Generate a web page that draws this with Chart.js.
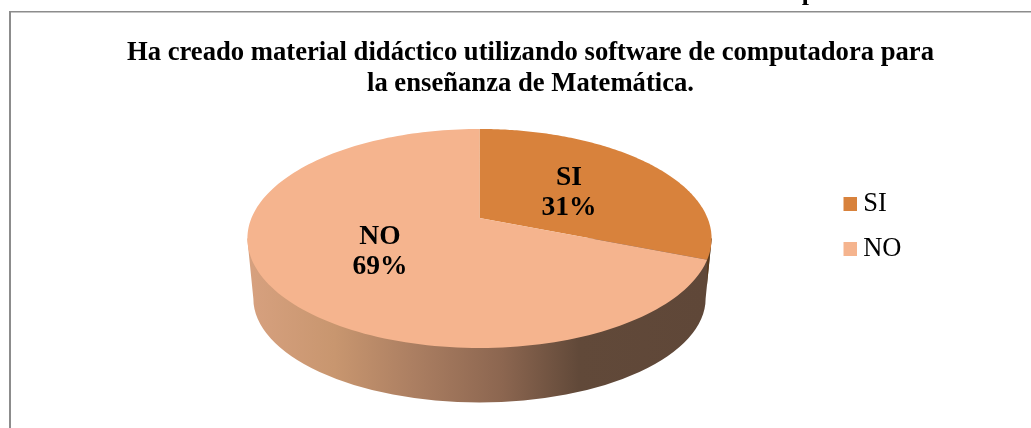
<!DOCTYPE html>
<html><head><meta charset="utf-8">
<style>html,body{margin:0;padding:0;background:#fff}#w{position:relative;width:1031px;height:428px;overflow:hidden}
#clip{position:absolute;left:150px;top:-20.9px;font:bold 25.9px/26px "Liberation Serif";color:#000;white-space:nowrap}</style>
<script src="https://cdn.jsdelivr.net/npm/chart.js@4/dist/chart.umd.min.js"></script>
</head><body><div id="w"><canvas id="c" width="1031" height="428"></canvas>
<div id="clip">Gráfico 6: Creación de Material Didáctico a través de Computadora</div></div>
<script>
const categories = ["SI","NO"];
const values = [31,69];
const colors = ["#D8823C","#F5B48E"];
const titleLines = ["Ha creado material didáctico utilizando software de computadora para","la enseñanza de Matemática."];
const RATIO_B = 105.7/228, K = 0.187;
function swatch(color){const s=document.createElement('canvas');s.width=16;s.height=14;const x=s.getContext('2d');x.fillStyle=color;x.fillRect(2,0,14,14);return s;}
function project(el,t,ang){const a=el.outerRadius,b=a*RATIO_B,u=Math.cos(ang)*t,v=Math.sin(ang)*t,d=1-K*v;return [el.x+a*u/d,el.y+b*v/d];}
const pie3d={id:'pie3d',
 beforeDraw(chart){const c=chart.ctx;c.save();c.fillStyle='#8C8C8C';c.fillRect(9,11,1022,1.5);c.fillRect(9,11,2,417);c.restore();},
 afterLayout(chart){const l=chart.legend;l.left-=19.5;l.right-=19.5;l.top+=59;l.bottom+=59;if(l.adjustHitBoxes)l.adjustHitBoxes();
   const t=chart.titleBlock;t.left+=10.5;t.right+=10.5;},
 beforeDatasetsDraw(chart){
  const c=chart.ctx,m=chart.getDatasetMeta(0),els=m.data,e0=els[0];
  const cx=e0.x,a=e0.outerRadius;
  const rimY=e0.y+20.5, rx=a/0.982, low=rx*0.974, lowY=rimY+60, lowRy=104;
  c.save();
  const wall=()=>{c.beginPath();c.moveTo(cx-rx,rimY);c.lineTo(cx-low,lowY);c.ellipse(cx,lowY,low,lowRy,0,Math.PI,0,true);c.lineTo(cx+rx,rimY);c.closePath();};
  const g=c.createLinearGradient(cx-low,0,cx+low,0);
  g.addColorStop(0,'#D6A07E');g.addColorStop(.18,'#C8966F');g.addColorStop(.35,'#AC7F62');g.addColorStop(.55,'#8C6650');g.addColorStop(.72,'#614939');g.addColorStop(1,'#5F4738');
  wall();c.fillStyle=g;c.fill();
  const seam=project(els[0],1,els[0].endAngle);
  c.save();c.beginPath();c.rect(seam[0],0,100,428);c.clip();wall();c.fillStyle='#5A3A1C';c.fill();c.restore();
  els.forEach((el,i)=>{c.beginPath();c.moveTo(el.x,el.y);const n=160;for(let k=0;k<=n;k++){const ang=el.startAngle+(el.endAngle-el.startAngle)*k/n;const p=project(el,1,ang);c.lineTo(p[0],p[1]);}c.closePath();c.fillStyle=el.options.backgroundColor;c.fill();});
  const tot=values.reduce((s,v)=>s+v,0);
  c.fillStyle='#000';c.font='bold 27.5px "Liberation Serif"';c.textAlign='center';c.textBaseline='middle';
  els.forEach((el,i)=>{const p=project(el,0.5,(el.startAngle+el.endAngle)/2);c.fillText(categories[i],p[0],p[1]-12);c.fillText(Math.round(values[i]/tot*100)+'%',p[0],p[1]+18);});
  c.restore();
  return false;
 }};
new Chart(document.getElementById('c'),{type:'pie',
 data:{labels:categories,datasets:[{data:values,backgroundColor:colors,borderWidth:0}]},
 options:{responsive:false,animation:false,radius:228,
  layout:{padding:{left:109,right:100,top:0,bottom:93}},
  plugins:{tooltip:{enabled:false},
   title:{display:true,text:titleLines,color:'#000',font:{family:'"Liberation Serif"',size:26.65,weight:'bold',lineHeight:31/26.65},padding:{top:37.5,bottom:1.5}},
   legend:{position:'right',align:'center',labels:{color:'#000',font:{family:'"Liberation Serif"',size:26.5},padding:18.5,usePointStyle:true,pointStyleWidth:1,
     generateLabels(chart){return categories.map((t,i)=>({text:t,fillStyle:colors[i],strokeStyle:colors[i],lineWidth:0,fontColor:'#000',pointStyle:swatch(colors[i]),hidden:false,index:i}));}}}}},
 plugins:[pie3d]});
</script></body></html>
